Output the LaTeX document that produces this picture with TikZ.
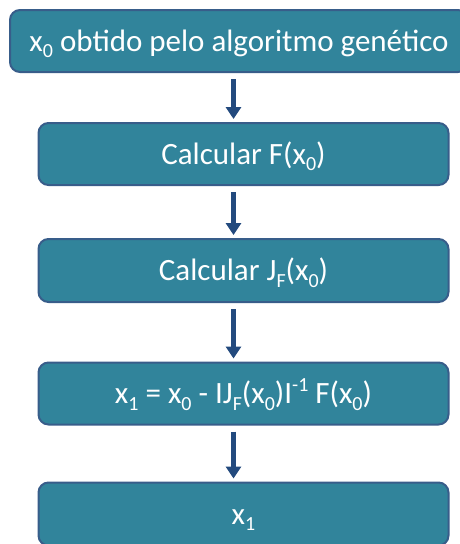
\documentclass[tikz,border=0pt]{standalone}
\usepackage{fontspec}
\setmainfont{Carlito}
\usetikzlibrary{arrows.meta}
\definecolor{boxfill}{HTML}{31849B}
\definecolor{boxline}{HTML}{385D8A}
\definecolor{arrowcol}{HTML}{234A7E}
\newcommand{\mysub}[1]{\raisebox{-0.22em}{\fontsize{20}{20}\selectfont #1}}
\newcommand{\mysup}[1]{\raisebox{0.38em}{\fontsize{20}{20}\selectfont #1}}
\begin{document}
\begin{tikzpicture}[x=1pt,y=-1pt,
  flowbox/.style={draw=boxline, line width=2pt, fill=boxfill, rounded corners=10pt,
    inner sep=0pt, text=white, text height=23pt, text depth=3pt, font=\fontsize{31}{36}\selectfont},
  arr/.style={draw=arrowcol, line width=4.5pt, -{Triangle[width=15pt,length=12pt]}}]
\useasboundingbox (0,0) rectangle (459,544);
\node[flowbox, minimum width=458pt, minimum height=62pt] (a) at (239,41) {x\mysub{0} obtido pelo algoritmo genético};
\node[flowbox, minimum width=410pt, minimum height=62pt] (b) at (243.5,154) {Calcular F(x\mysub{0})};
\node[flowbox, minimum width=410pt, minimum height=63pt] (c) at (243.5,270.5) {Calcular J\mysub{F}(x\mysub{0})};
\node[flowbox, minimum width=410pt, minimum height=62pt] (d) at (243.5,393.5) {x\mysub{1} = x\mysub{0} - IJ\mysub{F}(x\mysub{0})I\mysup{-1} F(x\mysub{0})};
\node[flowbox, minimum width=410pt, minimum height=63pt] (e) at (243.5,514) {x\mysub{1}};
\coordinate (ax) at (233.5,0);
\draw[arr] ([yshift=-6pt]a.south -| ax) -- ([yshift=3pt]b.north -| ax);
\draw[arr] ([yshift=-6pt]b.south -| ax) -- ([yshift=3pt]c.north -| ax);
\draw[arr] ([yshift=-6pt]c.south -| ax) -- ([yshift=3pt]d.north -| ax);
\draw[arr] ([yshift=-6pt]d.south -| ax) -- ([yshift=3pt]e.north -| ax);
\end{tikzpicture}
\end{document}
